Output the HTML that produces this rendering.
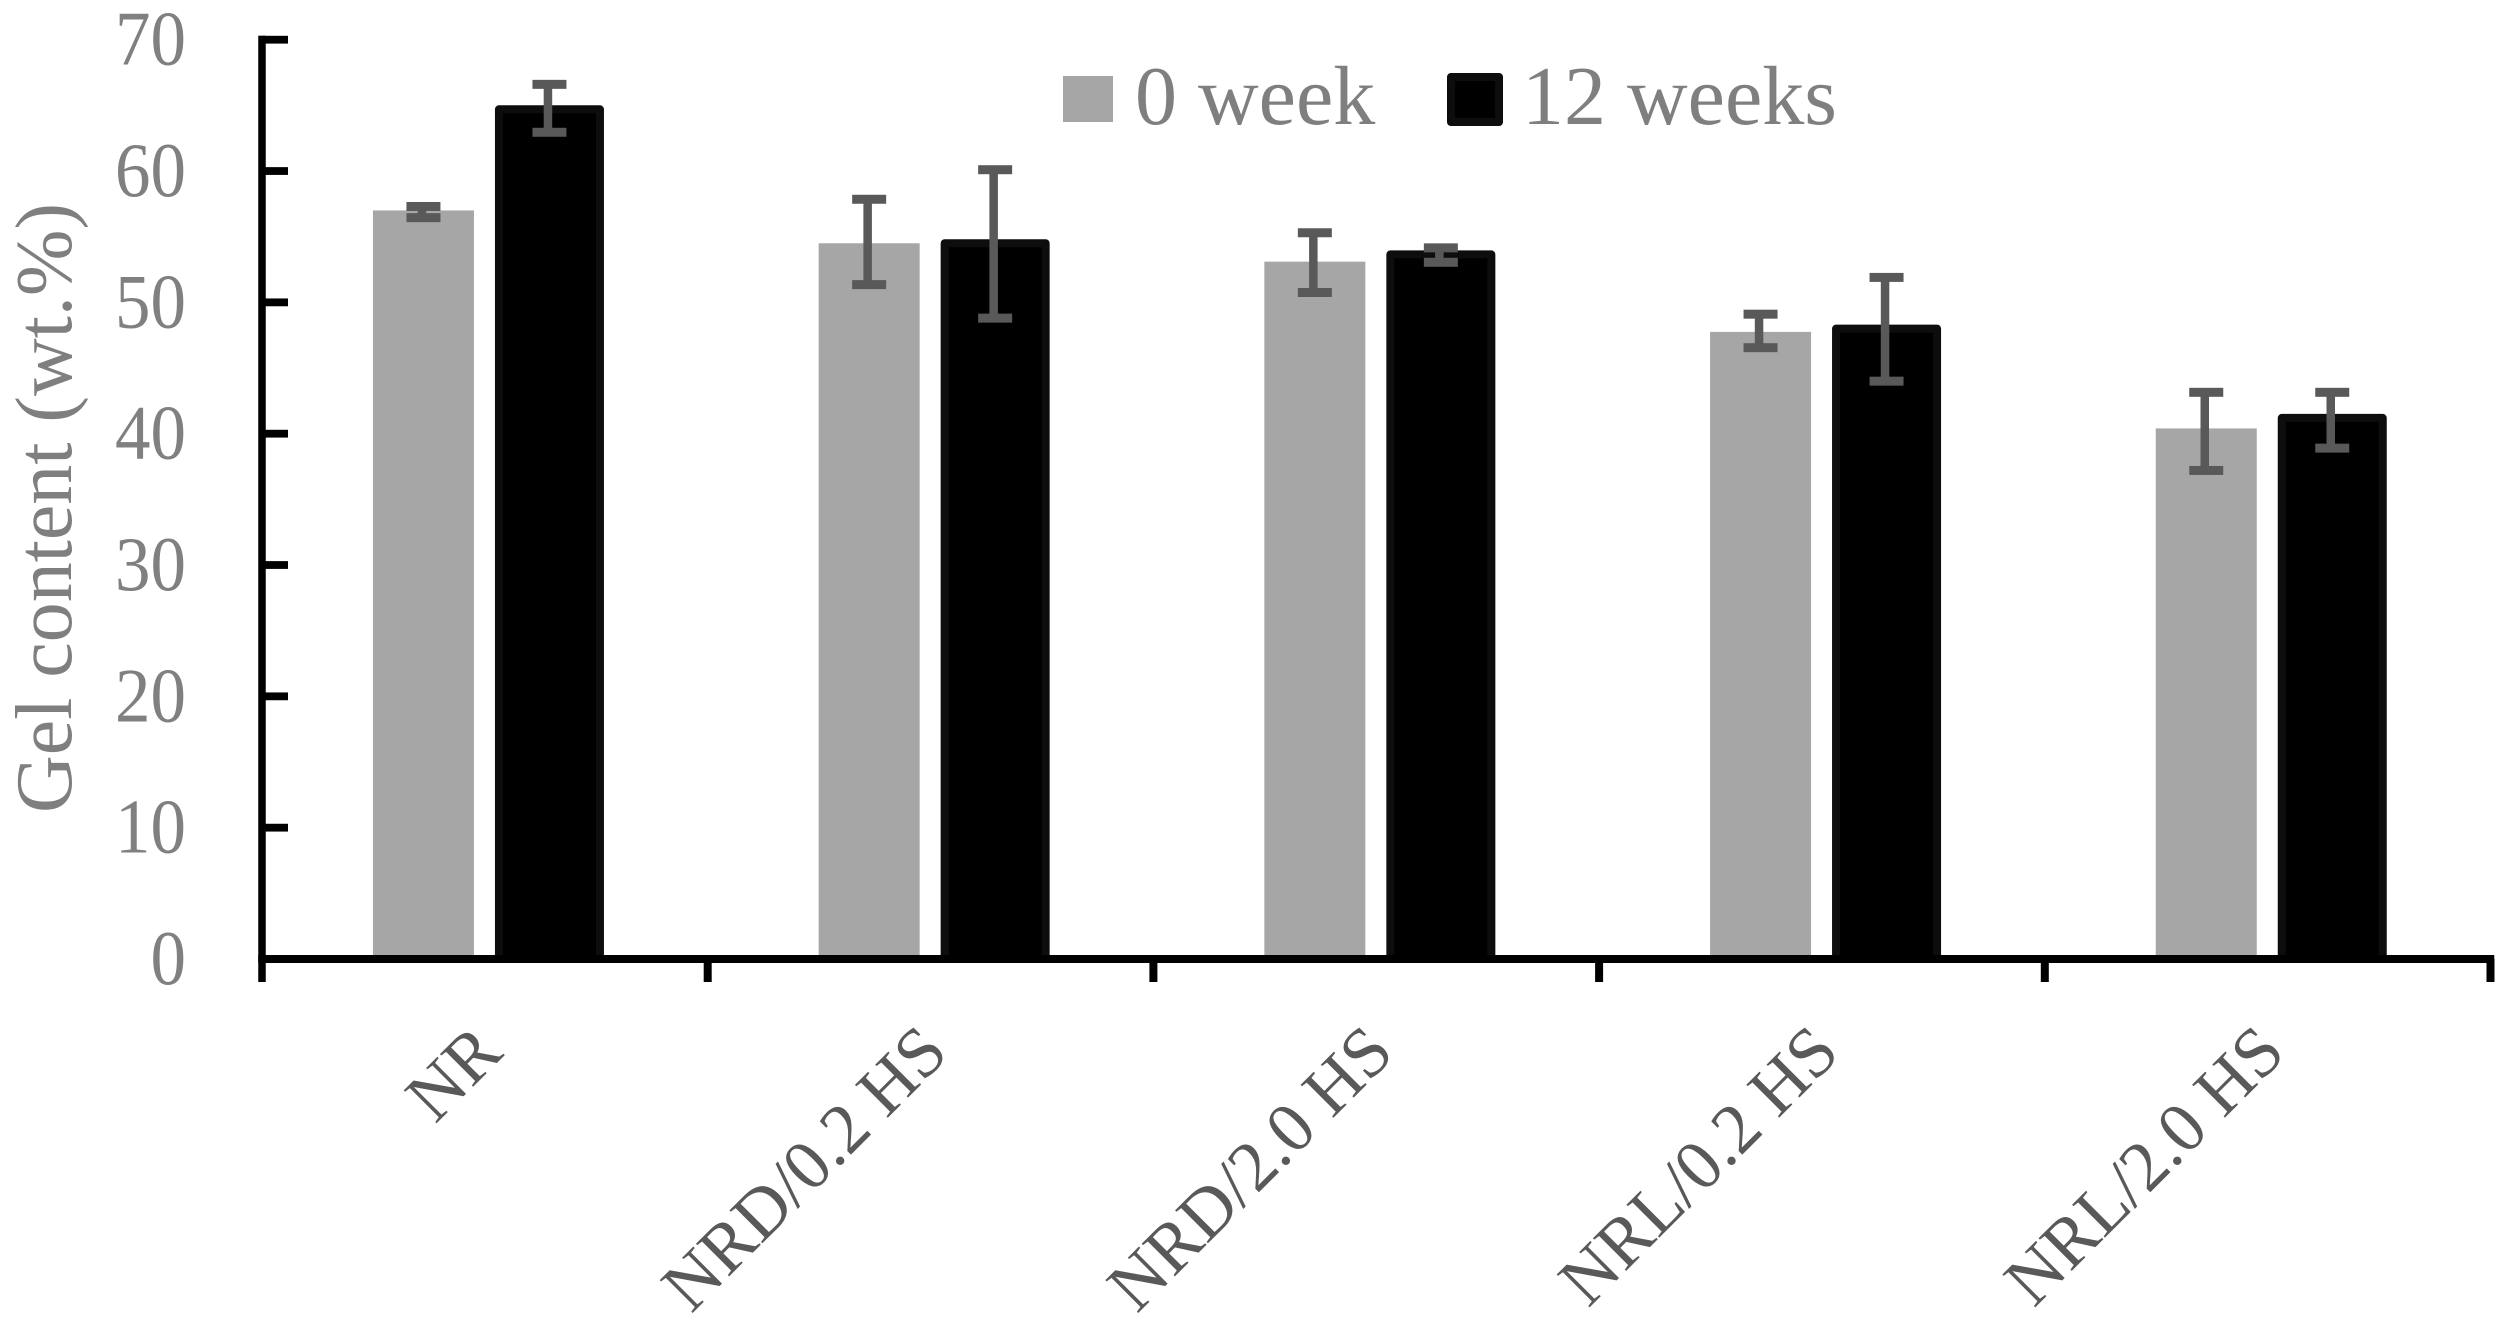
<!DOCTYPE html>
<html lang="en">
<head>
<meta charset="utf-8">
<title>Gel content chart</title>
<style>
html,body{margin:0;padding:0;background:#fff;}
svg{display:block;font-family:"Liberation Serif",serif;}
</style>
</head>
<body>
<svg id="chart" xmlns="http://www.w3.org/2000/svg" width="2517" height="1329" viewBox="0 0 2517 1329">
  <rect x="0" y="0" width="2517" height="1329" fill="#ffffff"/>
  <g id="bars"></g>
  <g id="axes"></g>
  <g id="errors"></g>
  <g id="ylabels"></g>
  <g id="xlabels"></g>
  <text transform="translate(71,813) rotate(-90)" font-size="80" fill="#7f7f7f" textLength="610" lengthAdjust="spacingAndGlyphs">Gel content (wt.%)</text>
  <g>
    <rect x="1063" y="76" width="50" height="46" fill="#a6a6a6"/>
    <text x="1135" y="124" font-size="84" fill="#7f7f7f">0 week</text>
    <rect x="1451" y="77" width="48" height="45" fill="#000000" stroke="#0d0d0d" stroke-width="8" stroke-linejoin="round"/>
    <text x="1522" y="124" font-size="84" fill="#7f7f7f">12 weeks</text>
  </g>
</svg>
<script>
const categories = ["NR", "NRD/0.2 HS", "NRD/2.0 HS", "NRL/0.2 HS", "NRL/2.0 HS"];
const week0Values = [57.0, 54.5, 53.1, 47.75, 40.4];
const week12Values = [64.7, 54.5, 53.65, 48.0, 41.2];
const week0ErrHigh = [57.3, 57.85, 55.3, 49.1, 43.15];
const week0ErrLow = [56.45, 51.35, 50.75, 46.55, 37.2];
const week12ErrHigh = [66.6, 60.1, 54.15, 51.9, 43.15];
const week12ErrLow = [62.95, 48.8, 53.05, 44.0, 38.9];
const yTickLabels = [0, 10, 20, 30, 40, 50, 60, 70];

const SVGNS = "http://www.w3.org/2000/svg";
const yAxisMin = 0, yAxisMax = 70;
const plotBottom = 959, plotTop = 39.7, plotLeft = 262, bandWidth = 445.7;
function yScale(v) { return plotBottom - (v - yAxisMin) / (yAxisMax - yAxisMin) * (plotBottom - plotTop); }
function bandCenter(i) { return plotLeft + (i + 0.5) * bandWidth; }
function bandEdge(i) { return plotLeft + i * bandWidth; }
function mk(tag, parent, attrs) {
  const el = document.createElementNS(SVGNS, tag);
  for (const k in attrs) el.setAttribute(k, attrs[k]);
  parent.appendChild(el);
  return el;
}
const barsG = document.getElementById("bars");
const axesG = document.getElementById("axes");
const errG = document.getElementById("errors");
const ylG = document.getElementById("ylabels");
const xlG = document.getElementById("xlabels");
const grayOffset = -61.4, blackOffset = 64.6, barW = 101, capW = 34, capT = 9, stemW = 8.5;

function drawError(cx, hi, lo) {
  const yh = yScale(hi), yl = yScale(lo);
  const stem = mk("rect", errG, {x: cx - stemW / 2 - 1.5, y: yh, width: stemW, height: yl - yh, fill: "#595959"});
  
  
  const capA = mk("rect", errG, {x: cx - capW / 2, y: yh - capT / 2, width: capW, height: capT, fill: "#595959"});
  
  
  const capB = mk("rect", errG, {x: cx - capW / 2, y: yl - capT / 2, width: capW, height: capT, fill: "#595959"});
  
  
}

categories.forEach(function (cat, i) {
  const c = bandCenter(i);
  const gx = c + grayOffset, bx = c + blackOffset;
  const y0 = yScale(week0Values[i]);
  const gray = mk("rect", barsG, {x: gx - barW / 2, y: y0, width: barW, height: plotBottom - y0, fill: "#a6a6a6"});
  
  
  const y12 = yScale(week12Values[i]);
  const black = mk("rect", barsG, {x: bx - barW / 2, y: y12, width: barW, height: plotBottom - y12, fill: "#000000", stroke: "#0d0d0d", "stroke-width": 8, "stroke-linejoin": "round"});
  
  
  drawError(gx, week0ErrHigh[i], week0ErrLow[i]);
  drawError(bx, week12ErrHigh[i], week12ErrLow[i]);
  const lx = c + 20, ly = 1055;
  const t = mk("text", xlG, {transform: "translate(" + lx + "," + ly + ") rotate(-45)", "text-anchor": "end", "font-size": 71, fill: "#595959"});
  t.textContent = cat;
  
  
});

const yLine = mk("rect", axesG, {x: plotLeft - 3.75, y: yScale(yAxisMax) - 4, width: 7.5, height: plotBottom + 23 - yScale(yAxisMax) + 4, fill: "#000"});


const xLine = mk("rect", axesG, {x: plotLeft - 3.75, y: plotBottom - 4, width: bandEdge(categories.length) - plotLeft + 7.5, height: 8, fill: "#000"});



yTickLabels.forEach(function (v) {
  const y = yScale(v);
  const tick = mk("rect", axesG, {x: plotLeft, y: y - 3.9, width: 26, height: 7.8, fill: "#000"});
  
  
  const s = String(v);
  const lab = mk("text", ylG, {x: 186 - s.length * 35.5, y: y + 25, "font-size": 77, fill: "#808080", textLength: s.length * 35.5, lengthAdjust: "spacingAndGlyphs"});
  lab.textContent = s;
  
  
});
for (let i = 1; i <= categories.length; i++) {
  const tx = bandEdge(i);
  const tick = mk("rect", axesG, {x: tx - 4, y: plotBottom, width: 8, height: 23, fill: "#000"});
  
  
}
</script>
</body>
</html>
